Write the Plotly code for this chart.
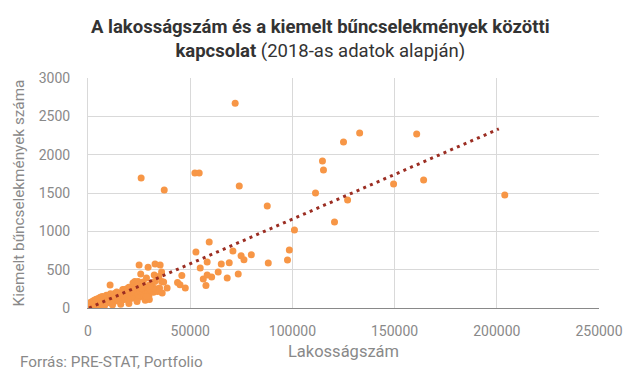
import plotly.graph_objects as go

# --- Data ---
# dense cluster of small settlements
cluster_pop = [150, 250, 350, 450, 550, 650, 750, 850, 950, 1050, 1150, 1250, 1350, 1450, 1550, 1650, 1750, 1850, 1950, 2100, 2250, 2400, 2550, 2700, 2850,
               3000, 3150, 3300, 3450, 3600, 3750, 3900, 4050, 4200, 4350, 4500, 4650, 4800, 4950, 5100, 5250, 5400, 5550, 5700, 5850,
               6000, 6200, 6400, 6600, 6800, 6950, 7100, 7300, 7500, 7700, 7900, 8100, 8300, 8500, 8700, 8900, 9100, 9300, 9500, 9700, 9900,
               10200, 10500, 10800, 11100, 11400, 11700, 12000, 12300, 12600, 12900, 13200, 13500, 13800, 14100, 14400, 14700, 15000,
               15400, 15800, 16200, 16600, 17000, 17400, 17800, 18200, 18600, 19000, 19400, 19800, 20200, 20600, 21000, 21500, 22000,
               22500, 23000, 23500, 24000, 24500, 25000, 25600, 26200, 26800, 27400, 28000, 28600, 29200, 29800, 30500, 31200, 32000, 33000, 34000, 35000,
               8000, 12000, 16000, 20000, 24000, 28000, 30000, 13000, 17000, 20000, 23000, 25000, 27000,
               22000, 22900, 24500, 28600, 31900, 32700, 36000, 30200, 26200, 22000,
               1000, 2000, 3000, 4000, 5000, 6000, 7000, 9000, 11000, 14000, 18000, 19000]
cluster_crime = [0, 3, 8, 2, 12, 5, 18, 7, 25, 10, 30, 14, 40, 6, 22, 48, 16, 35, 55, 9, 28, 62, 19, 44, 70,
                 12, 50, 78, 30, 20, 58, 88, 38, 15, 66, 95, 45, 25, 75, 102, 52, 32, 82, 110, 60,
                 38, 90, 118, 68, 45, 98, 126, 75, 52, 105, 134, 82, 58, 112, 142, 90, 65, 120, 150, 98, 72,
                 128, 158, 105, 78, 136, 166, 112, 85, 145, 175, 120, 92, 152, 184, 128, 98, 160,
                 192, 135, 105, 170, 200, 142, 112, 178, 210, 150, 118, 186, 220, 158, 125, 196, 232,
                 168, 132, 206, 245, 176, 140, 215, 258, 185, 150, 226, 270, 195, 160, 238, 282, 205, 250, 215, 262,
                 25, 40, 50, 60, 85, 100, 110, 190, 240, 270, 300, 320, 340,
                 326, 347, 347, 151, 261, 347, 347, 304, 261, 239,
                 70, 85, 100, 115, 125, 140, 150, 165, 185, 210, 240, 250]

# medium and large settlements
outlier_pop = [72000, 26000, 37300, 52300, 54400, 74000, 87700, 111300, 101000, 59300, 52800, 70900, 74900, 76300,
               79900, 58300, 54900, 65200, 69100, 88200, 98500, 97600, 63700, 60500, 56400, 58300, 57700, 68100,
               73500, 45900, 43800, 45000, 47600, 25000, 29400, 32800, 35300, 25800, 28600, 32400, 36000, 37000,
               38700, 36300, 10800, 34700, 30200,
               132900, 125000, 160800, 114700, 115200, 127000, 120600, 149500, 164200, 203900]
outlier_crime = [2670, 1695, 1540, 1760, 1760, 1591, 1330, 1500, 1017, 861, 730, 743, 682, 630,
                 695, 600, 521, 574, 590, 587, 756, 626, 469, 404, 378, 430, 295, 391,
                 443, 425, 334, 304, 261, 561, 530, 574, 561, 443, 391, 430, 469, 339,
                 261, 196, 300, 412, 282,
                 2282, 2165, 2269, 1917, 1800, 1408, 1121, 1617, 1669, 1473]

# linear trend line endpoints (as drawn in the reference)
trend_pop = [500, 201000]
trend_crime = [0, 2336]

x_ticks = [0, 50000, 100000, 150000, 200000, 250000]
y_ticks = [0, 500, 1000, 1500, 2000, 2500, 3000]

title_line1 = "A lakosságszám és a kiemelt bűncselekmények közötti"
title_line2_bold = "kapcsolat"
title_line2_rest = " (2018-as adatok alapján)"
source_text = "Forrás: PRE-STAT, Portfolio"

pop = cluster_pop + outlier_pop
crime = cluster_crime + outlier_crime

ORANGE = "#F79646"
TREND = "#9B2D22"
GRAY = "#898989"
FONT = "Roboto"

fig = go.Figure()
fig.add_trace(go.Scatter(
    x=pop, y=crime, mode="markers",
    marker=dict(color=ORANGE, size=7, line=dict(width=0)),
    hoverinfo="x+y", showlegend=False))
fig.add_trace(go.Scatter(
    x=trend_pop, y=trend_crime, mode="lines",
    line=dict(color=TREND, width=3, dash="3px,4.3px"),
    hoverinfo="skip", showlegend=False))

fig.update_layout(
    width=640, height=378,
    margin=dict(l=88, r=41, t=78, b=70, autoexpand=False),
    paper_bgcolor="white", plot_bgcolor="white",
    font=dict(family=FONT, color=GRAY, size=14),
    xaxis=dict(
        range=[0, 250000], tickvals=x_ticks, ticktext=[str(v) for v in x_ticks],
        showgrid=True, gridcolor="#D9D9D9", gridwidth=1,
        showline=True, linecolor=GRAY, linewidth=1, zeroline=False,
        ticks="", ticklabelstandoff=10, automargin=False,
        tickfont=dict(size=14, color=GRAY),
        title=dict(text="Lakosságszám", standoff=7, font=dict(size=16.5, color=GRAY))),
    yaxis=dict(
        range=[0, 3000], tickvals=y_ticks, ticktext=[str(v) for v in y_ticks],
        showgrid=True, gridcolor="#D9D9D9", gridwidth=1,
        showline=True, linecolor="#D9D9D9", linewidth=1, zeroline=False,
        ticks="", ticklabelstandoff=14, automargin=False,
        tickfont=dict(size=14, color=GRAY),
        title=dict(text="Kiemelt bűncselekmények száma", standoff=10, font=dict(size=15.3, color=GRAY))),
    annotations=[
        dict(text="<b>" + title_line1 + "</b><br><b>" + title_line2_bold + "</b>" + title_line2_rest,
             xref="paper", yref="paper", x=(320 - 88) / 511, y=(308 - 39) / 230,
             xanchor="center", yanchor="middle", showarrow=False, align="center",
             font=dict(family=FONT, size=18.5, color="#333333")),
        dict(text=source_text, xref="paper", yref="paper",
             x=(18 - 88) / 511, y=(308 - 362) / 230, xanchor="left", yanchor="middle", showarrow=False,
             font=dict(family=FONT, size=15.3, color=GRAY)),
    ],
)

fig.write_html("out.html", config={"displayModeBar": False},
               post_script="document.body.style.margin='0';")
